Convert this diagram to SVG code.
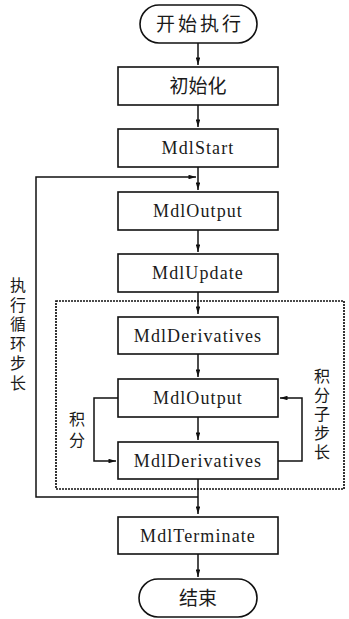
<svg xmlns="http://www.w3.org/2000/svg" width="349" height="619" viewBox="0 0 349 619">
<defs>
<marker id="ah" viewBox="0 0 10 6" refX="10" refY="3" markerWidth="8" markerHeight="4.5" markerUnits="userSpaceOnUse" orient="auto">
<path d="M0,0 L10,3 L0,6 Z" fill="#111"/>
</marker>
</defs>
<style>
.box{fill:#fff;stroke:#111;stroke-width:1.6}
.en{font-family:"Liberation Serif","Times New Roman",serif;font-size:18px;letter-spacing:1.1px;fill:#1a1a1a;text-anchor:middle}
.cn{font-family:"Liberation Serif","Noto Sans CJK SC",serif;font-size:19px;fill:#1a1a1a;text-anchor:middle}
.vl{font-family:"Liberation Serif","Noto Sans CJK SC",serif;font-size:16px;fill:#1a1a1a;text-anchor:middle}
.ln{fill:none;stroke:#111;stroke-width:1.5}
.dash{fill:none;stroke:#111;stroke-width:1.7;stroke-dasharray:2 1}
</style>
<g id="connectors">
<line class="ln" x1="198" y1="43" x2="198" y2="65" marker-end="url(#ah)"/>
<line class="ln" x1="198" y1="105" x2="198" y2="127" marker-end="url(#ah)"/>
<line class="ln" x1="198" y1="167" x2="198" y2="190" marker-end="url(#ah)"/>
<line class="ln" x1="198" y1="230" x2="198" y2="252" marker-end="url(#ah)"/>
<line class="ln" x1="198" y1="292" x2="198" y2="314" marker-end="url(#ah)"/>
<line class="ln" x1="198" y1="354" x2="198" y2="377" marker-end="url(#ah)"/>
<line class="ln" x1="198" y1="417" x2="198" y2="440" marker-end="url(#ah)"/>
<line class="ln" x1="198" y1="479" x2="198" y2="514" marker-end="url(#ah)"/>
<line class="ln" x1="198" y1="554" x2="198" y2="577" marker-end="url(#ah)"/>
<polyline class="ln" points="198,497 36,497 36,177 196,177" marker-end="url(#ah)"/>
<polyline class="ln" points="118,398 94,398 94,461 116,461" marker-end="url(#ah)"/>
<polyline class="ln" points="278,461 302,461 302,398 280,398" marker-end="url(#ah)"/>
<rect class="dash" x="56" y="301" width="288" height="188"/>
</g>
<g id="start"><rect class="box" x="140" y="5" width="117" height="38" rx="19" ry="19"/><text class="cn" x="200" y="31" letter-spacing="3">开始执行</text></g>
<g id="init"><rect class="box" x="118" y="67" width="160" height="38"/><text class="cn" x="198" y="93">初始化</text></g>
<g id="mdlstart"><rect class="box" x="118" y="129" width="160" height="38"/><text class="en" x="198" y="154">MdlStart</text></g>
<g id="mdloutput1"><rect class="box" x="118" y="192" width="160" height="38"/><text class="en" x="198" y="217">MdlOutput</text></g>
<g id="mdlupdate"><rect class="box" x="118" y="254" width="160" height="38"/><text class="en" x="198" y="279">MdlUpdate</text></g>
<g id="mdlderiv1"><rect class="box" x="118" y="317" width="160" height="37"/><text class="en" x="198" y="342">MdlDerivatives</text></g>
<g id="mdloutput2"><rect class="box" x="118" y="379" width="160" height="38"/><text class="en" x="198" y="404">MdlOutput</text></g>
<g id="mdlderiv2"><rect class="box" x="118" y="442" width="160" height="37"/><text class="en" x="198" y="467">MdlDerivatives</text></g>
<g id="mdlterminate"><rect class="box" x="118" y="517" width="160" height="37"/><text class="en" x="198" y="542">MdlTerminate</text></g>
<g id="end"><rect class="box" x="139" y="579" width="118" height="38" rx="19" ry="19"/><text class="cn" x="198" y="605">结束</text></g>
<g id="label-loop"><text class="vl" x="18" y="291">执</text><text class="vl" x="18" y="310.5">行</text><text class="vl" x="18" y="330">循</text><text class="vl" x="18" y="349.5">环</text><text class="vl" x="18" y="369">步</text><text class="vl" x="18" y="388.5">长</text></g>
<g id="label-integ"><text class="vl" x="77" y="425">积</text><text class="vl" x="77" y="446">分</text></g>
<g id="label-substep"><text class="vl" x="322" y="382">积</text><text class="vl" x="322" y="401">分</text><text class="vl" x="322" y="420">子</text><text class="vl" x="322" y="439">步</text><text class="vl" x="322" y="458">长</text></g>
</svg>
